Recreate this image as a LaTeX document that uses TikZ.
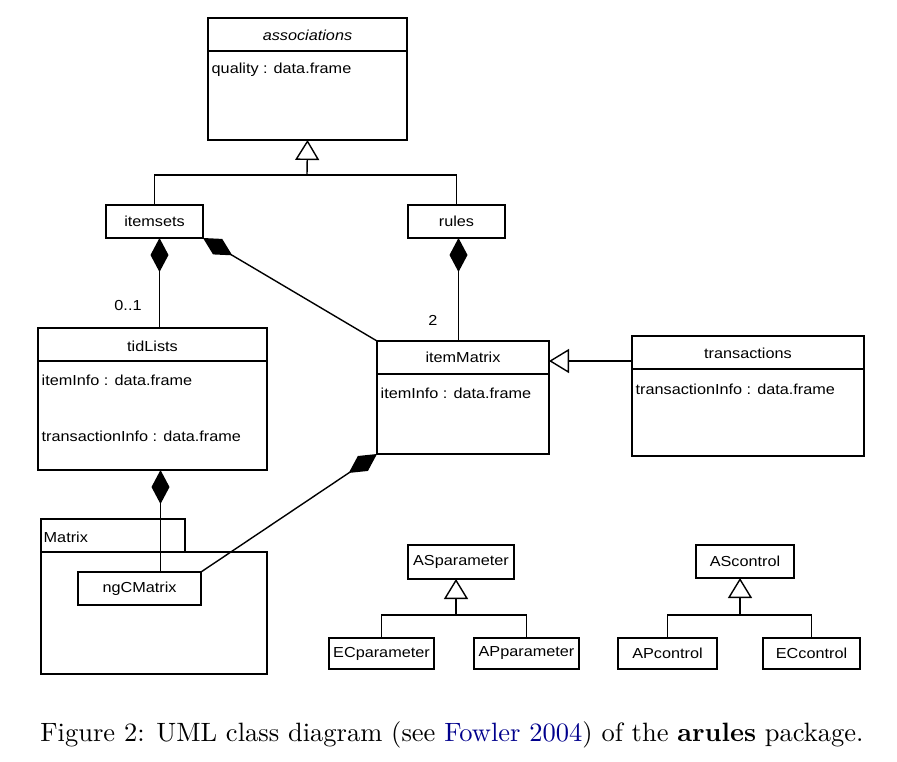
\documentclass[tikz,border=0pt]{standalone}
\usepackage{fontspec}
\usetikzlibrary{arrows.meta}
\newfontfamily\umlfont[FakeStretch=1.12]{Liberation Sans}
\definecolor{citeblue}{RGB}{0,0,140}

\begin{document}
\begin{tikzpicture}[x=1pt, y=-1pt, line width=1.4pt,
  txt/.style={inner sep=0pt, font=\umlfont\fontsize{14.5}{17}\selectfont},
  box/.style={draw, txt, outer sep=0pt, anchor=north west},
  comp/.style={{Diamond[length=34pt,width=18pt]}-},
  gen/.style={-{Triangle[open,length=20pt,width=24pt]}}]
\useasboundingbox (0,0) rectangle (897,761);
%% associations
\node[box, minimum width=199, minimum height=122] (assoc) at (208,18) {};
\node[txt, font=\umlfont\itshape\fontsize{14.5}{17}\selectfont] (assoctitle) at (307.5,35) {associations};
\draw (assoc.west |- 0,51) -- (assoc.east |- 0,51);
\node[txt, anchor=west] (assocattr) at (211,70) {quality : data.frame};
%% itemsets and rules
\node[box, minimum width=97, minimum height=33] (itemsets) at (106,205) {itemsets};
\node[box, minimum width=97, minimum height=33] (rules) at (408,205) {rules};
\coordinate (assocjoin) at (307,175);
\draw (itemsets.north) |- (assocjoin) -| (rules.north);
\draw[gen] (assocjoin) -- (assoc.south);
%% tidLists
\node[box, minimum width=229, minimum height=142] (tidLists) at (38,328) {};
\node[txt] (tidtitle) at (152.5,346) {tidLists};
\draw (tidLists.west |- 0,361) -- (tidLists.east |- 0,361);
\node[txt, anchor=west] (tidattra) at (41,380) {itemInfo : data.frame};
\node[txt, anchor=west] (tidattrb) at (41,436) {transactionInfo : data.frame};
%% itemMatrix
\node[box, minimum width=172, minimum height=113] (itemMatrix) at (377,341) {};
\node[txt] (imtitle) at (463,357) {itemMatrix};
\draw (itemMatrix.west |- 0,374) -- (itemMatrix.east |- 0,374);
\node[txt, anchor=west] (imattr) at (380,393) {itemInfo : data.frame};
%% transactions
\node[box, minimum width=232, minimum height=120] (transactions) at (632,336) {};
\node[txt] (trtitle) at (748,353) {transactions};
\draw (transactions.west |- 0,369) -- (transactions.east |- 0,369);
\node[txt, anchor=west] (trattr) at (635,389) {transactionInfo : data.frame};
\draw[gen] (transactions.west |- 0,361) -- (itemMatrix.east |- 0,361);
%% Matrix package
\node[box, minimum width=144, minimum height=33] (matrixtab) at (41,519) {};
\node[box, minimum width=226, minimum height=122] (matrixpkg) at (41,552) {};
\node[txt, anchor=west] (matrixname) at (43,537) {Matrix};
\node[box, fill=white, minimum width=123, minimum height=33] (ngCMatrix) at (78,572) {ngCMatrix};
%% compositions
\draw[comp] ([xshift=5]itemsets.south) -- ([xshift=5]itemsets.south |- tidLists.north);
\node[txt] (multa) at (128,306) {0..1};
\draw[comp] (itemsets.south east) -- (itemMatrix.north west);
\draw[comp] ([xshift=2]rules.south) -- ([xshift=2]rules.south |- itemMatrix.north);
\node[txt] (multb) at (433,320) {2};
\draw[comp] ([xshift=8]tidLists.south) -- ([xshift=8]tidLists.south |- ngCMatrix.north);
\draw[comp] (itemMatrix.south west) -- (ngCMatrix.north east);
%% parameter classes
\node[box, minimum width=106, minimum height=34] (ASparameter) at (408,545) {ASparameter};
\node[box, minimum width=105, minimum height=31] (ECparameter) at (329,638) {ECparameter};
\node[box, minimum width=105, minimum height=31] (APparameter) at (474,638) {APparameter};
\coordinate (parjoin) at (456,615);
\draw (ECparameter.north) |- (parjoin) -| (APparameter.north);
\draw[gen] (parjoin) -- (parjoin |- ASparameter.south);
%% control classes
\node[box, minimum width=98, minimum height=33] (AScontrol) at (696,545) {AScontrol};
\node[box, minimum width=99, minimum height=31] (APcontrol) at (618,638) {APcontrol};
\node[box, minimum width=97, minimum height=31] (ECcontrol) at (763,638) {ECcontrol};
\coordinate (ctrljoin) at (740,615);
\draw (APcontrol.north) |- (ctrljoin) -| (ECcontrol.north);
\draw[gen] (ctrljoin) -- (ctrljoin |- AScontrol.south);
%% caption
\node[scale=2.65, transform shape] (caption) at (452,735)
  {Figure 2: UML class diagram (see \textcolor{citeblue}{Fowler 2004}) of the \textbf{arules} package.};
\end{tikzpicture}
\end{document}
